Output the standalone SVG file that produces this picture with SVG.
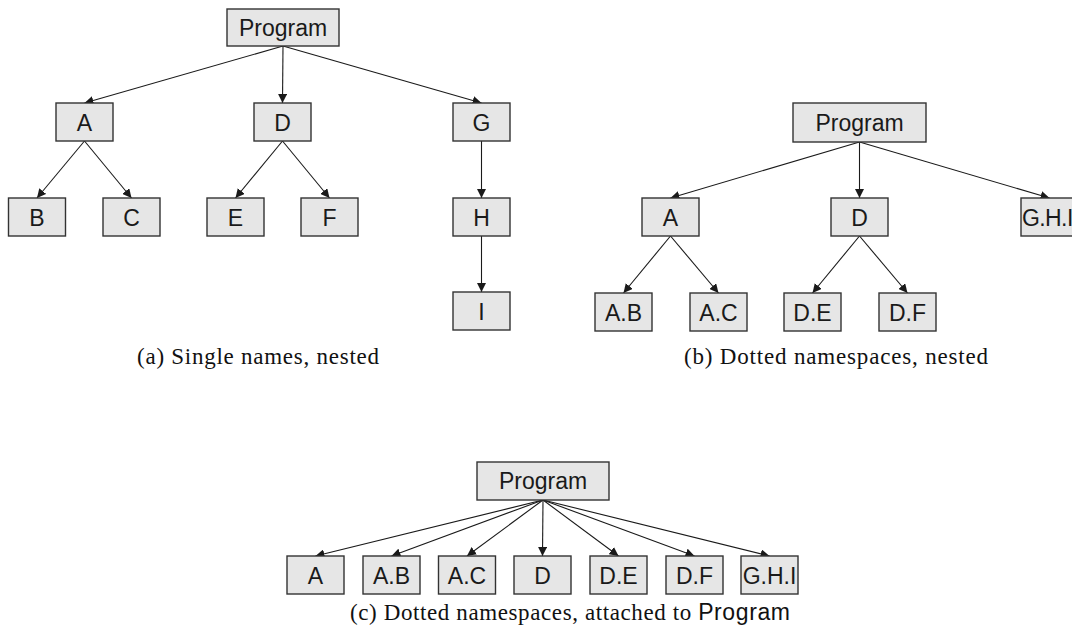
<svg xmlns="http://www.w3.org/2000/svg" width="1072" height="632" viewBox="0 0 1072 632">
  <defs>
    <marker id="arrow" viewBox="0 0 10 10" refX="10" refY="5" markerWidth="9" markerHeight="9" markerUnits="userSpaceOnUse" orient="auto">
      <path d="M0,0 L10,5 L0,10 z" fill="#1a1a1a"/>
    </marker>
    <style>
      .box rect { fill: #e6e6e6; stroke: #333333; stroke-width: 1.4; }
      .box text { font-family: "Liberation Sans", Arial, sans-serif; font-size: 23px; fill: #1a1a1a; text-anchor: middle; }
      .box text.edge { text-anchor: start; letter-spacing: -0.6px; }
      .edges line { stroke: #1a1a1a; stroke-width: 1.1; marker-end: url(#arrow); }
      .caption { font-family: "Liberation Serif", "Times New Roman", serif; font-size: 23px; fill: #111; text-anchor: middle; }
      .caption .sans { font-family: "Liberation Sans", Arial, sans-serif; }
    </style>
  </defs>
  <rect width="1072" height="632" fill="#ffffff"/>

  <!-- (a) single names, nested -->
  <g id="edges-a" class="edges">
    <line x1="283" y1="46" x2="84.5" y2="103"/>
    <line x1="283" y1="46" x2="282.5" y2="103"/>
    <line x1="283" y1="46" x2="481.5" y2="103"/>
    <line x1="84.5" y1="141" x2="37" y2="198"/>
    <line x1="84.5" y1="141" x2="131.5" y2="198"/>
    <line x1="282.5" y1="141" x2="235.5" y2="198"/>
    <line x1="282.5" y1="141" x2="329.5" y2="198"/>
    <line x1="481.5" y1="141" x2="481.5" y2="198"/>
    <line x1="481.5" y1="236" x2="481.5" y2="292"/>
  </g>
  <g id="a-program" class="box"><rect x="227" y="9" width="112" height="37"/><text x="283" y="35.5">Program</text></g>
  <g id="a-A" class="box"><rect x="56" y="103" width="57" height="38"/><text x="84.5" y="130.5">A</text></g>
  <g id="a-D" class="box"><rect x="254" y="103" width="57" height="38"/><text x="282.5" y="130.5">D</text></g>
  <g id="a-G" class="box"><rect x="453" y="103" width="57" height="38"/><text x="481.5" y="130.5">G</text></g>
  <g id="a-B" class="box"><rect x="8.5" y="198" width="57" height="38"/><text x="37" y="225.5">B</text></g>
  <g id="a-C" class="box"><rect x="103" y="198" width="57" height="38"/><text x="131.5" y="225.5">C</text></g>
  <g id="a-E" class="box"><rect x="207" y="198" width="57" height="38"/><text x="235.5" y="225.5">E</text></g>
  <g id="a-F" class="box"><rect x="301" y="198" width="57" height="38"/><text x="329.5" y="225.5">F</text></g>
  <g id="a-H" class="box"><rect x="453" y="198" width="57" height="38"/><text x="481.5" y="225.5">H</text></g>
  <g id="a-I" class="box"><rect x="453" y="292" width="57" height="38"/><text x="481.5" y="319.5">I</text></g>
  <text class="caption" x="258" y="364" textLength="242" lengthAdjust="spacing">(a) Single names, nested</text>

  <!-- (b) dotted namespaces, nested -->
  <g id="edges-b" class="edges">
    <line x1="859.5" y1="142" x2="670.5" y2="198"/>
    <line x1="859.5" y1="142" x2="859.5" y2="198"/>
    <line x1="859.5" y1="142" x2="1049.5" y2="198"/>
    <line x1="670.5" y1="236" x2="623.5" y2="293"/>
    <line x1="670.5" y1="236" x2="718.5" y2="293"/>
    <line x1="859.5" y1="236" x2="812.5" y2="293"/>
    <line x1="859.5" y1="236" x2="907.5" y2="293"/>
  </g>
  <g id="b-program" class="box"><rect x="793" y="103" width="133" height="39"/><text x="859.5" y="130.5">Program</text></g>
  <g id="b-A" class="box"><rect x="642" y="198" width="57" height="38"/><text x="670.5" y="225.5">A</text></g>
  <g id="b-D" class="box"><rect x="831" y="198" width="57" height="38"/><text x="859.5" y="225.5">D</text></g>
  <g id="b-GHI" class="box"><rect x="1021" y="198" width="57" height="38"/><text class="edge" x="1022" y="225.5">G.H.I</text></g>
  <g id="b-AB" class="box"><rect x="595" y="293" width="57" height="38"/><text x="623.5" y="320.5">A.B</text></g>
  <g id="b-AC" class="box"><rect x="690" y="293" width="57" height="38"/><text x="718.5" y="320.5">A.C</text></g>
  <g id="b-DE" class="box"><rect x="784" y="293" width="57" height="38"/><text x="812.5" y="320.5">D.E</text></g>
  <g id="b-DF" class="box"><rect x="879" y="293" width="57" height="38"/><text x="907.5" y="320.5">D.F</text></g>
  <text class="caption" x="836" y="364" textLength="304" lengthAdjust="spacing">(b) Dotted namespaces, nested</text>

  <!-- (c) dotted namespaces, attached to Program -->
  <g id="edges-c" class="edges">
    <line x1="543" y1="500" x2="315.5" y2="556"/>
    <line x1="543" y1="500" x2="391.5" y2="556"/>
    <line x1="543" y1="500" x2="467" y2="556"/>
    <line x1="543" y1="500" x2="542.5" y2="556"/>
    <line x1="543" y1="500" x2="618.5" y2="556"/>
    <line x1="543" y1="500" x2="694.5" y2="556"/>
    <line x1="543" y1="500" x2="769.5" y2="556"/>
  </g>
  <g id="c-program" class="box"><rect x="477" y="462" width="132" height="38"/><text x="543" y="489">Program</text></g>
  <g id="c-A" class="box"><rect x="287" y="556" width="57" height="38"/><text x="315.5" y="583.5">A</text></g>
  <g id="c-AB" class="box"><rect x="363" y="556" width="57" height="38"/><text x="391.5" y="583.5">A.B</text></g>
  <g id="c-AC" class="box"><rect x="438.5" y="556" width="57" height="38"/><text x="467" y="583.5">A.C</text></g>
  <g id="c-D" class="box"><rect x="514" y="556" width="57" height="38"/><text x="542.5" y="583.5">D</text></g>
  <g id="c-DE" class="box"><rect x="590" y="556" width="57" height="38"/><text x="618.5" y="583.5">D.E</text></g>
  <g id="c-DF" class="box"><rect x="666" y="556" width="57" height="38"/><text x="694.5" y="583.5">D.F</text></g>
  <g id="c-GHI" class="box"><rect x="741" y="556" width="57" height="38"/><text x="769.5" y="583.5">G.H.I</text></g>
  <text class="caption" x="570" y="620" textLength="440" lengthAdjust="spacing">(c) Dotted namespaces, attached to <tspan class="sans">Program</tspan></text>
</svg>
